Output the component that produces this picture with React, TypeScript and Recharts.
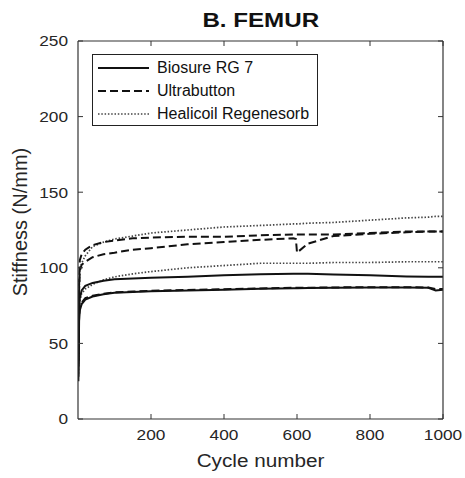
import React from 'react';
import { LineChart, Line, XAxis, YAxis } from 'recharts';

const cycles = [1, 3, 5, 10, 20, 40, 70, 100, 150, 200, 300, 400, 500, 590, 597, 600, 630, 700, 800, 900, 960, 980, 1000];

const biosureA = [28, 72, 80, 85, 88, 90, 91.5, 92.5, 93, 93.5, 94, 95, 95.8, 96, 96, 96, 96, 95.5, 95, 94.3, 94, 94, 94];
const biosureB = [25, 65, 72, 76, 79, 81, 82.5, 83.5, 84, 84.5, 85, 85.5, 86.2, 86.5, 86.5, 86.5, 86.6, 86.8, 87, 87, 86.8, 85, 85.5];
const ultraA = [40, 90, 105, 109, 112, 115, 117, 118, 119.5, 120, 120.5, 120.5, 121.5, 122, 122, 122, 122, 122, 123, 124, 124, 124, 124];
const ultraB = [35, 85, 98, 102, 104, 107, 109, 110, 112, 113, 115.5, 117, 118.5, 119.5, 119, 110, 116, 121, 122.5, 123.5, 124, 124, 124];
const ultraC = [38, 68, 74, 77, 80, 81.5, 82.8, 83.8, 84.3, 84.8, 85.3, 85.8, 86.3, 86.8, 86.8, 86.8, 86.8, 87, 87.2, 87.2, 87, 86, 86];
const healA = [45, 85, 98, 103, 108, 114, 117, 119, 121, 123, 125, 127, 128, 129, 129, 129, 129.5, 130, 131.5, 133, 133.5, 134, 134];
const healB = [30, 70, 78, 83, 86, 89, 92, 94, 96, 97.5, 100, 101.5, 103, 103, 103, 103, 103, 103.5, 103.5, 104, 104, 104, 104];

const xTicks = [200, 400, 600, 800, 1000];
const yTicks = [0, 50, 100, 150, 200, 250];
const legendNames = ['Biosure RG 7', 'Ultrabutton', 'Healicoil Regenesorb'];

const data = cycles.map((c, i) => ({
  cycle: c,
  biosureA: biosureA[i],
  biosureB: biosureB[i],
  ultraA: ultraA[i],
  ultraB: ultraB[i],
  ultraC: ultraC[i],
  healA: healA[i],
  healB: healB[i],
}));

const FONT = '"Liberation Sans", Arial, Helvetica, sans-serif';
const TXT = '#262626';
const SX = 1.15;
const TICK_LEN = 5;
const MARGIN = 10;

const LeftTick = (props: any) => {
  const { x, y, payload } = props;
  const ax = x + MARGIN;
  return (
    <g>
      <line x1={ax} x2={ax + TICK_LEN} y1={y} y2={y} stroke="#333" strokeWidth={1} />
      <text transform={`translate(${x},${y}) scale(${SX},1)`} textAnchor="end" dy="0.36em" fontSize={15} fill={TXT} fontFamily={FONT}>
        {payload.value}
      </text>
    </g>
  );
};
const RightTick = (props: any) => {
  const { x, y } = props;
  const ax = x - MARGIN;
  return <line x1={ax} x2={ax - TICK_LEN} y1={y} y2={y} stroke="#333" strokeWidth={1} />;
};
const BottomTick = (props: any) => {
  const { x, y, payload } = props;
  const ay = y - MARGIN;
  return (
    <g>
      <line x1={x} x2={x} y1={ay} y2={ay - TICK_LEN} stroke="#333" strokeWidth={1} />
      <text transform={`translate(${x},${y}) scale(${SX},1)`} textAnchor="middle" dy="0.72em" fontSize={15} fill={TXT} fontFamily={FONT}>
        {payload.value}
      </text>
    </g>
  );
};
const TopTick = (props: any) => {
  const { x, y } = props;
  const ay = y + MARGIN;
  return <line x1={x} x2={x} y1={ay} y2={ay + TICK_LEN} stroke="#333" strokeWidth={1} />;
};

const solid = { stroke: '#111', strokeWidth: 2 };
const dashed = { stroke: '#111', strokeWidth: 2, strokeDasharray: '8 4' };
const dotted = { stroke: '#444', strokeWidth: 1.7, strokeDasharray: '1.5 1.8' };
const axisLine = { stroke: '#333', strokeWidth: 1.2 };

export default function App() {
  return (
    <div style={{ position: 'absolute', left: 0, top: 0, width: 465, height: 478, background: '#fff', fontFamily: FONT }}>
      <LineChart width={465} height={478} data={data} margin={{ top: 40, right: 21, bottom: 58, left: 77 }}>
        <XAxis dataKey="cycle" type="number" domain={[0, 1000]} ticks={xTicks} xAxisId="b" height={1}
          tickSize={0} tickMargin={MARGIN} tick={<BottomTick />} axisLine={axisLine} tickLine={false} interval={0} allowDataOverflow />
        <XAxis dataKey="cycle" type="number" domain={[0, 1000]} ticks={xTicks} xAxisId="t" orientation="top" height={1}
          tickSize={0} tickMargin={MARGIN} tick={<TopTick />} axisLine={axisLine} tickLine={false} interval={0} allowDataOverflow />
        <YAxis type="number" domain={[0, 250]} ticks={yTicks} yAxisId="l" width={1}
          tickSize={0} tickMargin={MARGIN} tick={<LeftTick />} axisLine={axisLine} tickLine={false} interval={0} allowDataOverflow />
        <YAxis type="number" domain={[0, 250]} ticks={yTicks} yAxisId="r" orientation="right" width={1}
          tickSize={0} tickMargin={MARGIN} tick={<RightTick />} axisLine={axisLine} tickLine={false} interval={0} allowDataOverflow />
        <Line xAxisId="b" yAxisId="l" type="linear" dataKey="healA" dot={false} isAnimationActive={false} {...dotted} />
        <Line xAxisId="b" yAxisId="l" type="linear" dataKey="healB" dot={false} isAnimationActive={false} {...dotted} />
        <Line xAxisId="b" yAxisId="l" type="linear" dataKey="ultraA" dot={false} isAnimationActive={false} {...dashed} />
        <Line xAxisId="b" yAxisId="l" type="linear" dataKey="ultraB" dot={false} isAnimationActive={false} {...dashed} />
        <Line xAxisId="b" yAxisId="l" type="linear" dataKey="ultraC" dot={false} isAnimationActive={false} {...dashed} />
        <Line xAxisId="b" yAxisId="l" type="linear" dataKey="biosureA" dot={false} isAnimationActive={false} {...solid} />
        <Line xAxisId="b" yAxisId="l" type="linear" dataKey="biosureB" dot={false} isAnimationActive={false} {...solid} />
        <Line xAxisId="t" yAxisId="r" type="linear" dataKey="healB" dot={false} isAnimationActive={false} stroke="none" legendType="none" />
      </LineChart>

      <div style={{ position: 'absolute', left: 0, width: 465, top: 8, textAlign: 'center', paddingLeft: 56, boxSizing: 'border-box' }}>
        <span style={{ display: 'inline-block', fontSize: 21, fontWeight: 'bold', color: '#111', transform: `scaleX(${SX})`, lineHeight: '24px' }}>B. FEMUR</span>
      </div>
      <div style={{ position: 'absolute', left: 78, width: 365, top: 450, textAlign: 'center' }}>
        <span style={{ display: 'inline-block', fontSize: 18, color: TXT, transform: `scaleX(${SX})`, lineHeight: '22px' }}>Cycle number</span>
      </div>
      <div style={{ position: 'absolute', left: 20, top: 222, width: 0, height: 0 }}>
        <div style={{ position: 'absolute', left: -100, top: -12, width: 200, textAlign: 'center', fontSize: 20, color: TXT, lineHeight: '24px', transform: 'rotate(-90deg)', whiteSpace: 'nowrap' }}>
          Stiffness (N/mm)
        </div>
      </div>

      <div style={{ position: 'absolute', left: 92, top: 54, width: 226, height: 72, border: '1px solid #222', boxSizing: 'border-box', background: '#fff' }}>
        {legendNames.map((name, i) => {
          const st = i === 0 ? solid : i === 1 ? dashed : dotted;
          return (
            <div key={name} style={{ position: 'absolute', left: 4, top: 3 + i * 23, height: 20, display: 'flex', alignItems: 'center' }}>
              <svg width={54} height={20} style={{ display: 'block' }}>
                <line x1={1} x2={52} y1={10} y2={10} {...st} />
              </svg>
              <span style={{ fontSize: 16, color: '#111', marginLeft: 6, whiteSpace: 'nowrap' }}>{name}</span>
            </div>
          );
        })}
      </div>
    </div>
  );
}
